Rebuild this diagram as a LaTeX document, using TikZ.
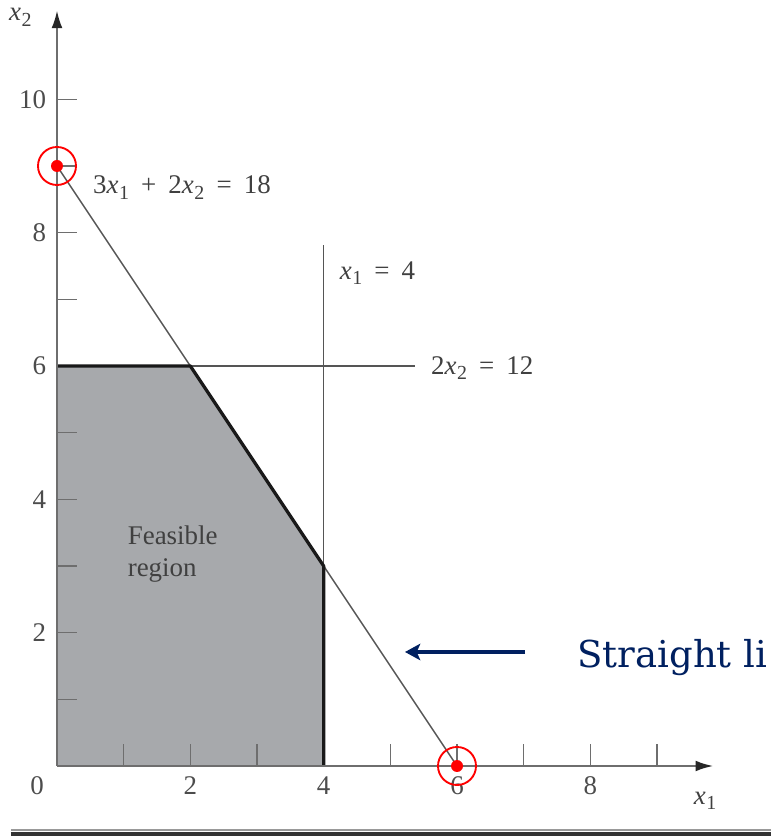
\documentclass[tikz,border=0pt]{standalone}
\usepackage{fontspec}
\setmainfont{Liberation Serif}
\newfontfamily\notefont{DejaVu Serif}
\usetikzlibrary{arrows.meta}
\definecolor{feas}{HTML}{A7A9AC}
\definecolor{axisgray}{HTML}{6E6E6E}
\definecolor{linegray}{HTML}{555555}
\definecolor{navy}{HTML}{002060}
\newcommand\xv[1]{\textit{x}\kern0.02em\raisebox{-0.45ex}{\fontsize{8.5}{9}\selectfont #1}}
\newcommand\opr[1]{\hspace{0.45em}#1\hspace{0.45em}}
\begin{document}
\begin{tikzpicture}[x=1cm,y=1cm,
  every node/.style={font=\fontsize{11.5}{13.7}\selectfont, text=black!75, inner sep=1pt},
  axisline/.style={draw=axisgray, line width=1.1pt, arrows={-{Latex[length=7.7pt,width=4.6pt,fill=black!85,color=black!85]}}},
  tickmark/.style={draw=axisgray, line width=0.7pt},
  thinline/.style={draw=linegray, line width=0.6pt},
  boldline/.style={draw=black!90, line width=1.4pt, line join=round},
  marker/.style={draw=red, line width=0.8pt},
  dotmark/.style={fill=red},
  pointer/.style={draw=navy, line width=1.4pt, -{Stealth[length=6.5pt,width=7pt,inset=1.5pt]}},
  ticklabel/.style={text=black!70}]
\useasboundingbox (-0.855,-1.065) rectangle (10.71,11.49);

% key points
\coordinate (O) at (0,0);
\coordinate (A) at (0,6);
\coordinate (B) at (2,6);
\coordinate (C) at (4,3);
\coordinate (D) at (4,0);
\coordinate (P9) at (0,9);
\coordinate (P6) at (6,0);
\coordinate (V4top) at (4,7.81);
\coordinate (H6end) at (5.37,6);
\coordinate (Xend) at (9.85,0);
\coordinate (Yend) at (0,11.34);

% feasible region
\fill[feas] (O) -- (A) -- (B) -- (C) -- (D) -- cycle;

% ticks
\foreach \i in {1,...,9} \draw[tickmark] (\i,0) -- (\i,0.33);
\foreach \i in {1,...,10} \draw[tickmark] (0,\i) -- (0.3,\i);

% constraint lines
\draw[thinline] (P9) -- (P6);
\draw[thinline] (D) -- (V4top);
\draw[thinline] (A) -- (H6end);
\draw[boldline] (A) -- (B) -- (C) -- (D);

% axes
\draw[axisline] (O) -- (Xend);
\draw[axisline] (O) -- (Yend);

% tick labels
\foreach \v in {2,4,6,8,10} \node[ticklabel, anchor=east] (yl\v) at (-0.12,\v) {\v};
\foreach \v in {2,4,6,8} \node[ticklabel] (xl\v) at (\v,-0.29) {\v};
\node[ticklabel] (xl0) at (-0.3,-0.29) {0};

% axis labels
\node (x1lab) at (9.72,-0.52) {\xv1};
\node (x2lab) at (-0.55,11.23) {\xv2};

% constraint labels
\node[anchor=west] (c1) at (0.5,8.68) {3\xv1\opr{+}2\xv2\opr{=}18};
\node[anchor=west] (c2) at (4.2,7.39) {\xv1\opr{=}4};
\node[anchor=west] (c3) at (5.57,5.97) {2\xv2\opr{=}12};
\node[anchor=west, align=left] (feasible) at (1.02,3.18) {Feasible\\region};

% red markers
\draw[marker] (P9) circle (0.285);
\fill[dotmark] (P9) circle (0.09);
\draw[marker] (P6) circle (0.285);
\fill[dotmark] (P6) circle (0.09);

% annotation
\node[anchor=base west, text=navy, font=\notefont\fontsize{15.8}{19}\selectfont, inner sep=0pt] (note) at (7.8,1.47) {Straight li};
\coordinate (arrS) at (7.02,1.71);
\coordinate (arrE) at (5.22,1.71);
\draw[pointer] (arrS) -- (arrE);

% bottom rule
\coordinate (r1) at (-0.69,-0.965);
\coordinate (r2) at (10.71,-0.965);
\coordinate (r3) at (-0.69,-1.02);
\coordinate (r4) at (10.71,-1.02);
\draw[black!40, line width=0.9pt] (r1) -- (r2);
\draw[black!80, line width=1.7pt] (r3) -- (r4);
\end{tikzpicture}
\end{document}
